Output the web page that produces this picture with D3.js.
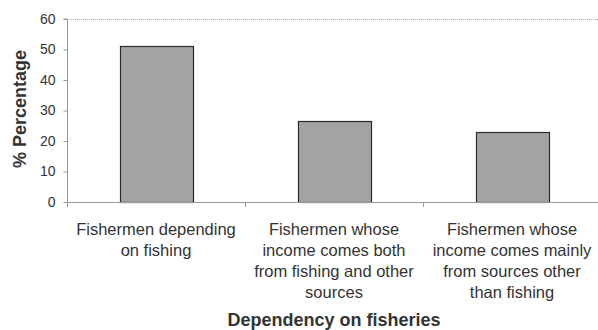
<!DOCTYPE html>
<html>
<head>
<meta charset="utf-8">
<script src="https://cdn.jsdelivr.net/npm/d3@7"></script>
<style>
  body { margin: 0; background: #fff; }
  text { font-family: "Liberation Sans", Arial, sans-serif; fill: #333; }
</style>
</head>
<body>
<svg id="chart" width="598" height="330"></svg>
<script>
var categories = ["depending", "both", "mainly"];
var categoryLines = [
  ["Fishermen depending", "on fishing"],
  ["Fishermen whose", "income comes both", "from fishing and other", "sources"],
  ["Fishermen whose", "income comes mainly", "from sources other", "than fishing"]
];
var values = [51, 26.5, 23];
var yTicks = [0, 10, 20, 30, 40, 50, 60];

var svg = d3.select("#chart"),
    plotLeft = 67, plotRight = 601, plotTop = 19, plotBottom = 202;

var x = d3.scaleBand()
    .domain(categories)
    .range([plotLeft, plotRight])
    .paddingInner(0.59)
    .paddingOuter(0.295);

var y = d3.scaleLinear()
    .domain([0, 60])
    .range([plotBottom, plotTop]);

// top dotted gridline
svg.append("line")
    .attr("x1", plotLeft).attr("x2", 598)
    .attr("y1", y(60) + 0.5).attr("y2", y(60) + 0.5)
    .attr("stroke", "#aaa")
    .attr("stroke-dasharray", "1,1");

// bars
svg.selectAll("rect.bar")
    .data(values)
  .enter().append("rect")
    .attr("class", "bar")
    .attr("x", function(d, i) { return Math.round(x(categories[i])) + 0.5; })
    .attr("y", function(d) { return Math.round(y(d)) + 0.5; })
    .attr("width", Math.round(x.bandwidth()))
    .attr("height", function(d) { return Math.round(y(0)) - Math.round(y(d)); })
    .attr("fill", "#a3a3a3")
    .attr("stroke", "#2a2a2a")
    .attr("stroke-width", 1.2);

// y axis
var yAxis = svg.append("g")
    .attr("transform", "translate(" + (plotLeft + 0.5) + ",0)")
    .call(d3.axisLeft(y).tickValues(yTicks).tickSize(4).tickPadding(8));
yAxis.select(".domain").attr("stroke", "#999").attr("d", "M-4," + y(60) + "H0V" + y(0));
yAxis.selectAll(".tick line").attr("stroke", "#999");
yAxis.selectAll(".tick text")
    .style("font-family", "'Liberation Sans', Arial, sans-serif")
    .style("font-size", "14px")
    .attr("fill", "#333");

// x axis line and band ticks
var step = x.step();
var xAxis = svg.append("g");
xAxis.append("line")
    .attr("x1", plotLeft).attr("x2", 598)
    .attr("y1", y(0) + 0.5).attr("y2", y(0) + 0.5)
    .attr("stroke", "#999");
xAxis.selectAll("line.tick")
    .data(d3.range(categories.length + 1))
  .enter().append("line")
    .attr("class", "tick")
    .attr("x1", function(i) { return Math.round(plotLeft + i * step) + 0.5; })
    .attr("x2", function(i) { return Math.round(plotLeft + i * step) + 0.5; })
    .attr("y1", y(0)).attr("y2", y(0) + 5)
    .attr("stroke", "#999");

// category labels
svg.selectAll("text.cat")
    .data(categoryLines)
  .enter().append("text")
    .attr("class", "cat")
    .attr("text-anchor", "middle")
    .style("font-size", "16.5px")
    .each(function(lines, i) {
      var t = d3.select(this),
          cx = x(categories[i]) + x.bandwidth() / 2;
      lines.forEach(function(s, j) {
        t.append("tspan").attr("x", cx).attr("y", 235 + j * 21).text(s);
      });
    });

// axis titles
svg.append("text")
    .attr("x", (plotLeft + plotRight) / 2)
    .attr("y", 326)
    .attr("text-anchor", "middle")
    .style("font-size", "18px")
    .style("font-weight", "bold")
    .text("Dependency on fisheries");

svg.append("text")
    .attr("transform", "translate(26,109) rotate(-90)")
    .attr("text-anchor", "middle")
    .style("font-size", "18px")
    .style("font-weight", "bold")
    .text("% Percentage");
</script>
</body>
</html>
